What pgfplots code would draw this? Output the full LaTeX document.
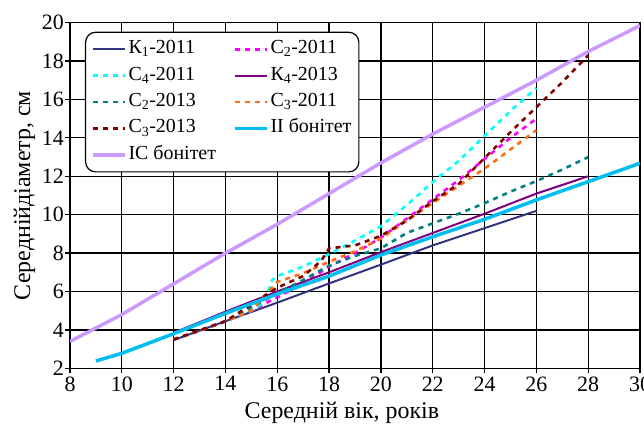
\documentclass[border=0pt]{standalone}
\usepackage{fontspec}
\setmainfont{Liberation Serif}
\usepackage{pgfplots}
\pgfplotsset{compat=1.18}

\definecolor{kone}{RGB}{51,51,128}
\definecolor{kfour}{RGB}{128,0,128}
\definecolor{cfour}{RGB}{0,255,255}
\definecolor{ctwo}{RGB}{255,0,255}
\definecolor{ctwob}{RGB}{0,128,128}
\definecolor{cthree}{RGB}{255,110,20}
\definecolor{cthreeb}{RGB}{128,0,0}
\definecolor{bontwo}{RGB}{0,190,240}
\definecolor{bonic}{RGB}{204,153,255}

\begin{document}
\begin{tikzpicture}
\begin{axis}[
    scale only axis,
    width=570bp, height=345.6bp,
    xmin=8, xmax=30, ymin=2, ymax=20,
    xtick={8,10,...,30}, ytick={2,4,...,20},
    grid=major,
    grid style={black, line width=1.2bp},
    axis line style={black, line width=1.2bp},
    tick style={black, line width=1.2bp},
    major tick length=5bp,
    tick align=outside,
    tick pos=left,
    /pgf/number format/assume math mode=true,
    ticklabel style={font=\fontsize{22}{24}\selectfont},
    yticklabel style={inner sep=1bp},
    xticklabel style={inner sep=3bp},
    xlabel={Середній вік, років},
    ylabel={Середнійдіаметр, см},
    every axis x label/.style={at={(axis description cs:0.477,-0.144)}, anchor=base, font=\fontsize{24}{26}\selectfont},
    every axis y label/.style={at={(axis description cs:-0.08,0.5)}, rotate=90, anchor=center, font=\fontsize{24}{26}\selectfont},
    legend columns=2,
    legend cell align=left,
    legend image code/.code={\draw[#1] (0bp,0bp) -- (32bp,0bp);},
    legend style={
        at={(axis description cs:0.0263,0.974)}, anchor=north west,
        draw=black, line width=1.2bp, rounded corners=10bp, fill=white,
        inner sep=6bp, row sep=4.4bp,
        font=\fontsize{20}{22}\selectfont,
        nodes={text height=14bp, text depth=5bp, inner sep=1.5bp},
        /tikz/every even column/.append style={column sep=16bp},
    },
    dsh/.style={line width=2.6bp, dash pattern=on 5bp off 5bp},
]

% К1-2011
\addplot[kone, line width=2bp] coordinates {
    (12,3.47)(14,4.45)(16,5.42)(18,6.42)(20,7.4)(22,8.4)(24,9.3)(26,10.2)
};
% С2-2011
\addplot[ctwo, dsh] coordinates {
    (12,3.5)(13,3.95)(14,4.45)(15,5.0)(16,5.7)(17,6.4)(18,7.3)(19,8.0)
    (20,8.8)(21,9.8)(22,10.8)(23,11.8)(24,12.9)(25,14.0)(26,15.0)
};
% С4-2011
\addplot[cfour, dsh] coordinates {
    (12,3.5)(13,3.95)(14,4.45)(15,5.0)(15.5,5.45)(15.8,6.6)(16,6.8)(17,7.3)
    (18,7.95)(19,8.65)(20,9.4)(21,10.5)(22,11.7)(23,12.8)(24,14.1)(25,15.4)(26,16.6)
};
% К4-2013
\addplot[kfour, line width=2bp] coordinates {
    (12,3.85)(14,4.95)(16,6.0)(18,7.0)(20,8.05)(22,9.05)(24,10.05)(26,11.1)(28,12.0)
};
% С2-2013
\addplot[ctwob, dsh] coordinates {
    (12,3.5)(14,4.45)(16,5.9)(17,6.6)(18,7.35)(19,7.85)(20,8.25)(21,9.05)
    (22,9.55)(23,10.05)(24,10.6)(25,11.2)(26,11.75)(27,12.35)(28,13.0)
};
% С3-2011
\addplot[cthree, dsh] coordinates {
    (12,3.5)(13,3.95)(14,4.45)(15,5.0)(15.6,5.9)(16,6.5)(17,6.95)(18,7.55)
    (19,8.1)(20,8.75)(21,9.7)(22,10.6)(23,11.5)(24,12.4)(25,13.4)(26,14.4)
};
% С3-2013
\addplot[cthreeb, dsh] coordinates {
    (12,3.5)(14,4.45)(16,6.2)(17,6.8)(17.7,7.6)(18,8.25)(19,8.4)(20,8.9)
    (21,9.7)(22,10.7)(23,11.6)(24,12.95)(25,14.3)(26,15.6)(27,16.9)(28,18.3)
};
% II бонітет
\addplot[bontwo, line width=3.5bp] coordinates {
    (9,2.38)(10,2.78)(12,3.8)(14,4.86)(16,5.87)(18,6.8)(20,7.9)(22,8.85)
    (24,9.76)(26,10.77)(28,11.72)(30,12.68)
};
% ІС бонітет
\addplot[bonic, line width=3.5bp] coordinates {
    (8,3.4)(10,4.8)(12,6.4)(14,8.0)(16,9.5)(18,11.1)(20,12.7)(22,14.2)
    (24,15.6)(26,17.0)(28,18.5)(30,19.85)
};

\legend{К\textsubscript{1}-2011, С\textsubscript{2}-2011, С\textsubscript{4}-2011, К\textsubscript{4}-2013,
        С\textsubscript{2}-2013, С\textsubscript{3}-2011, С\textsubscript{3}-2013, II бонітет, ІС бонітет}
\end{axis}
\pgfresetboundingbox
\path ([xshift=-70bp,yshift=-57.7bp]current axis.south west) rectangle ([xshift=4bp,yshift=22.7bp]current axis.north east);
\end{tikzpicture}
\end{document}
